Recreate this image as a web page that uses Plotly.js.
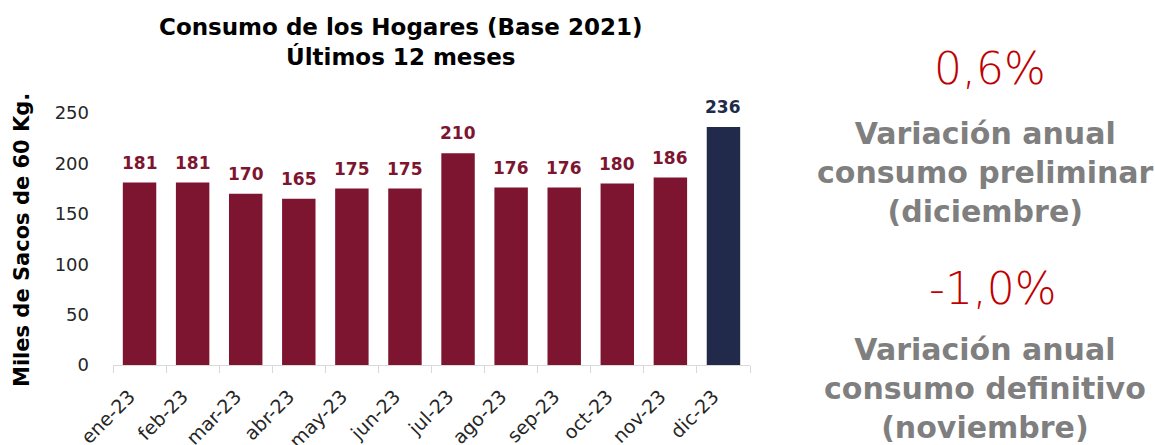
<!DOCTYPE html>
<html><head><meta charset="utf-8">
<script src="https://cdn.plot.ly/plotly-3.0.1.min.js"></script>
<style>html,body{margin:0;padding:0;background:#fff}#c{width:1155px;height:445px}</style>
</head><body><div id="c"></div>
<script>
const months = ["ene-23","feb-23","mar-23","abr-23","may-23","jun-23","jul-23","ago-23","sep-23","oct-23","nov-23","dic-23"];
const consumo = [181,181,170,165,175,175,210,176,176,180,186,236];
const barColors = ["#7E1530","#7E1530","#7E1530","#7E1530","#7E1530","#7E1530","#7E1530","#7E1530","#7E1530","#7E1530","#7E1530","#222A4B"];
const titleText = "Consumo de los Hogares (Base 2021)<br>Últimos 12 meses";
const yTitle = "Miles de Sacos de 60 Kg.";
const varPrelim = "0,6%";
const varPrelimLabel = "Variación anual<br>consumo preliminar<br>(diciembre)";
const varDef = "-1,0%";
const varDefLabel = "Variación anual<br>consumo definitivo<br>(noviembre)";

const F = "DejaVu Sans";
const L = 113, R = 750, T = 113, B = 365;
const px = x => (x - L) / (R - L);
const py = y => (B - y) / (B - T);

const trace = {
  type: "bar", x: months, y: consumo,
  marker: {color: barColors},
  cliponaxis: false, hoverinfo: "skip"
};
const labelAnns = months.map((m, i) => ({
  x: m, y: consumo[i], xref: "x", yref: "y", text: String(consumo[i]),
  showarrow: false, yanchor: "bottom", yshift: 8,
  font: {family: F, size: 17, color: barColors[i], weight: 700}
}));
const layout = {
  width: 1155, height: 445,
  margin: {l: L, r: 1155 - R, t: T, b: 445 - B},
  paper_bgcolor: "#fff", plot_bgcolor: "#fff",
  bargap: 0.37, showlegend: false,
  font: {family: F, color: "#262626"},
  xaxis: {
    type: "category", tickangle: -45, tickson: "boundaries", ticks: "outside",
    ticklen: 7, tickcolor: "#d9d9d9", showline: true, linecolor: "#d9d9d9",
    showgrid: false, ticklabelstandoff: 12, ticklabelshift: -10,
    tickfont: {family: F, size: 19, color: "#262626"}
  },
  yaxis: {
    range: [0, 250], dtick: 50, showgrid: false, zeroline: false, showline: false,
    ticks: "", ticklabelstandoff: 23, tickfont: {family: F, size: 18, color: "#262626"}
  },
  annotations: labelAnns.concat([
    {text: yTitle, xref: "paper", yref: "paper", x: px(22), y: py(240), xanchor: "center", yanchor: "middle",
     textangle: -90, showarrow: false, font: {family: F, size: 21, color: "#000", weight: 700}},
    {text: titleText, xref: "paper", yref: "paper", x: px(400), y: py(12), xanchor: "center", yanchor: "top",
     showarrow: false, font: {family: F, size: 23, color: "#000", weight: 700}},
    {text: varPrelim, xref: "paper", yref: "paper", x: px(990), y: py(68), xanchor: "center", yanchor: "middle",
     showarrow: false, font: {family: F, size: 44, color: "#C00000", weight: 300}},
    {text: varPrelimLabel, xref: "paper", yref: "paper", x: px(985), y: py(172), xanchor: "center", yanchor: "middle",
     showarrow: false, font: {family: F, size: 30, color: "#7F7F7F", weight: 700}},
    {text: varDef, xref: "paper", yref: "paper", x: px(993), y: py(288), xanchor: "center", yanchor: "middle",
     showarrow: false, font: {family: F, size: 44, color: "#C00000", weight: 300}},
    {text: varDefLabel, xref: "paper", yref: "paper", x: px(985), y: py(388), xanchor: "center", yanchor: "middle",
     showarrow: false, font: {family: F, size: 30, color: "#7F7F7F", weight: 700}}
  ])
};
Plotly.newPlot("c", [trace], layout, {displayModeBar: false, staticPlot: true});
</script></body></html>
